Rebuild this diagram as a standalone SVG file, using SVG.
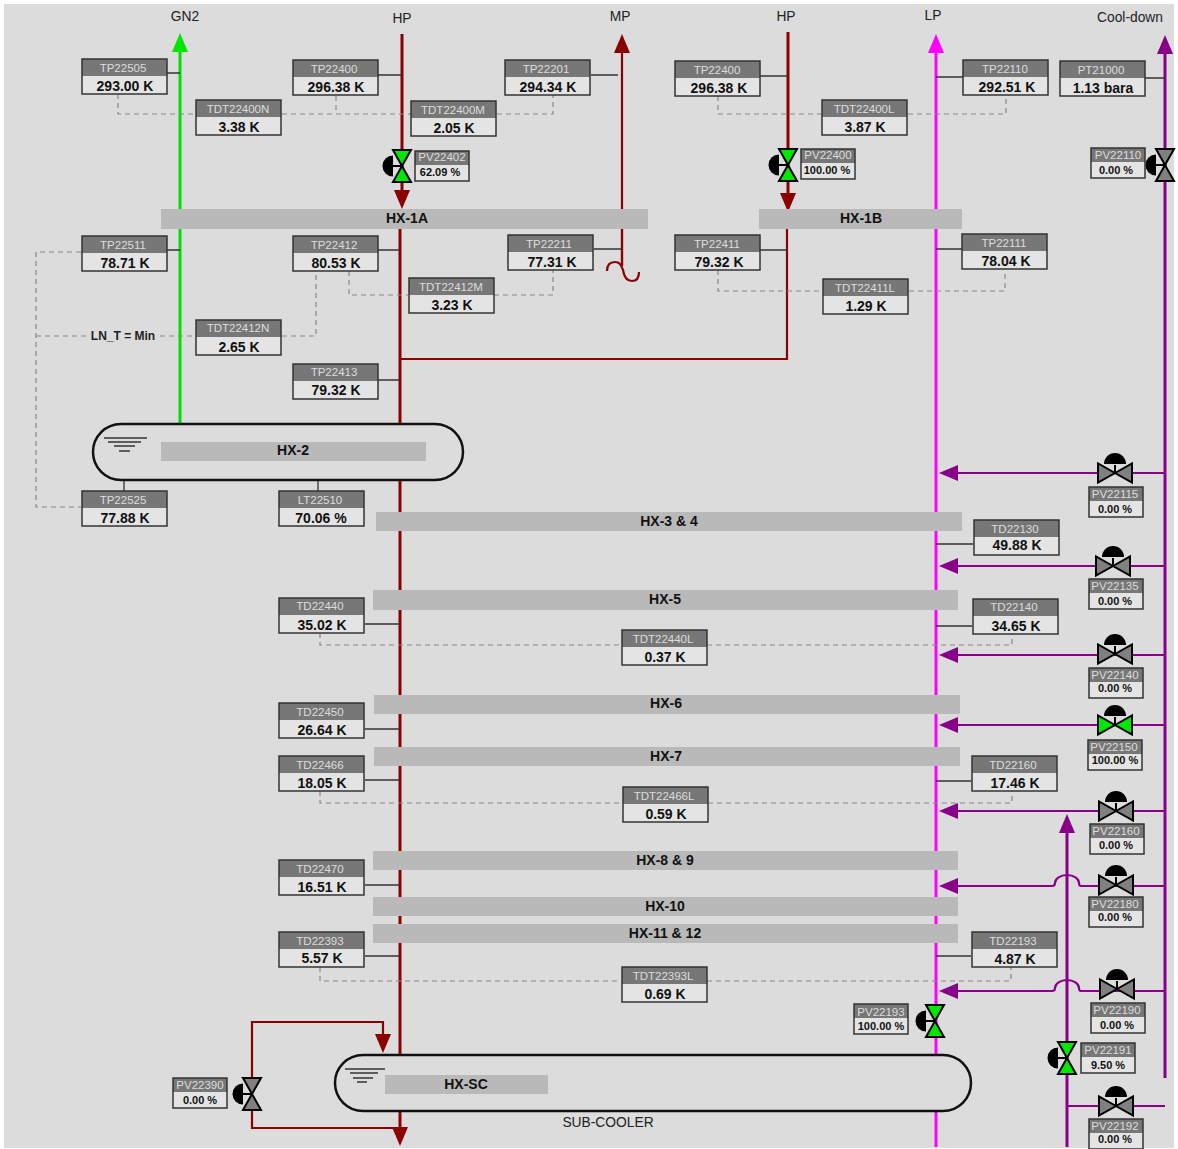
<svg xmlns="http://www.w3.org/2000/svg" width="1178" height="1149" viewBox="0 0 1178 1149">
<style>
text{font-family:"Liberation Sans",Arial,sans-serif;text-anchor:middle}
.lbl{font-size:13.8px;fill:#222}
.bar{fill:#b9b9b9}
.bt{font-size:14px;font-weight:bold;fill:#111}
.hd{fill:#777}
.body{fill:#e4e4e4}
.fr{fill:none;stroke:#333;stroke-width:1.5}
.nm{font-size:11.5px;fill:#ddd}
.val{font-size:14px;font-weight:bold;fill:#111}
.sval{font-size:11px;font-weight:bold;fill:#111}
.ves{fill:#dcdcdc;stroke:#111;stroke-width:2.5}
.lvl{stroke:#333;stroke-width:1.3;fill:none}
.stub{stroke:#333;stroke-width:1.3;fill:none}
.dash{stroke:#888;stroke-width:1.2;stroke-dasharray:5 4;fill:none}
.g{stroke:#00e000;stroke-width:3;fill:none}
.r{stroke:#8b0000;stroke-width:3;fill:none}
.r2{stroke:#8b0000;stroke-width:2.2;fill:none}
.m{stroke:#ff00ff;stroke-width:3;fill:none}
.p{stroke:#880088;stroke-width:3;fill:none}
.p2{stroke:#880088;stroke-width:2.2;fill:none}
.vo{fill:#808080;stroke:#000;stroke-width:2}
.vg{fill:#00e800;stroke:#000;stroke-width:2}
</style>
<defs>
<marker id="ag" markerUnits="userSpaceOnUse" markerWidth="20" markerHeight="16" viewBox="0 0 20 16" refX="1" refY="8" orient="auto"><path d="M0,0 L19,8 L0,16z" fill="#00e800"/></marker>
<marker id="ar" markerUnits="userSpaceOnUse" markerWidth="20" markerHeight="16" viewBox="0 0 20 16" refX="1" refY="8" orient="auto"><path d="M0,0 L19,8 L0,16z" fill="#8b0000"/></marker>
<marker id="am" markerUnits="userSpaceOnUse" markerWidth="20" markerHeight="16" viewBox="0 0 20 16" refX="1" refY="8" orient="auto"><path d="M0,0 L19,8 L0,16z" fill="#ff00ff"/></marker>
<marker id="ap" markerUnits="userSpaceOnUse" markerWidth="20" markerHeight="16" viewBox="0 0 20 16" refX="1" refY="8" orient="auto"><path d="M0,0 L19,8 L0,16z" fill="#880088"/></marker>
<g id="vh"><path d="M0,-8 V0" stroke="#000" stroke-width="2"/><path d="M-11,-9 A11,11 0 0 1 11,-9z" fill="#000"/><path class="vo" d="M0,0 L-17,-9.5 V9.5z"/><path class="vo" d="M0,0 L17,-9.5 V9.5z"/></g>
<g id="vhg"><path d="M0,-8 V0" stroke="#000" stroke-width="2"/><path d="M-11,-9 A11,11 0 0 1 11,-9z" fill="#000"/><path class="vg" d="M0,0 L-17,-9.5 V9.5z"/><path class="vg" d="M0,0 L17,-9.5 V9.5z"/></g>
<g id="vv"><path d="M-10,0 H0" stroke="#000" stroke-width="2"/><path d="M-9,-10.5 A10.5,10.5 0 0 0 -9,10.5z" fill="#000"/><path class="vo" d="M0,0 L-9,-16 H9z"/><path class="vo" d="M0,0 L-9,16 H9z"/></g>
<g id="vvg"><path d="M-10,0 H0" stroke="#000" stroke-width="2"/><path d="M-9,-10.5 A10.5,10.5 0 0 0 -9,10.5z" fill="#000"/><path class="vg" d="M0,0 L-9,-16 H9z"/><path class="vg" d="M0,0 L-9,16 H9z"/></g>
<g id="box"><rect class="body" width="85" height="35"/><rect class="hd" width="85" height="17"/><rect class="fr" width="85" height="35"/></g>
<g id="sbox"><rect class="body" width="54" height="30"/><rect class="hd" width="54" height="14"/><rect class="fr" width="54" height="30"/></g>
</defs>
<rect width="1178" height="1149" fill="#fff"/>
<rect x="4" y="4" width="1170" height="1144" fill="#dcdcdc"/>

<g id="connectors">
<path class="g" d="M180,425 V51" marker-end="url(#ag)"/>
<path class="r" d="M402,34 V191" marker-end="url(#ar)"/>
<path class="r" d="M400,229 V1055"/>
<path class="r2" d="M622,266 V52" marker-end="url(#ar)"/>
<path class="r2" d="M607,271 C607,264 611,262 615,262 C620,262 621,265 623,270 C624,277 627,281 632,281 C637,281 639,277 639,272"/>
<path class="r2" d="M622,229 V266"/>
<path class="r" d="M788,32 V194" marker-end="url(#ar)"/>
<path class="r2" d="M787,229 V359 H400"/>
<path class="m" d="M936,1147 V52" marker-end="url(#am)"/>
<path class="p" d="M1165,1078 V53" marker-end="url(#ap)"/>
<path class="p" d="M1067,1147 V832" marker-end="url(#ap)"/>
<path class="p2" d="M1165,473 H957" marker-end="url(#ap)"/>
<path class="p2" d="M1165,566 H957" marker-end="url(#ap)"/>
<path class="p2" d="M1165,655 H957" marker-end="url(#ap)"/>
<path class="p2" d="M1165,725 H957" marker-end="url(#ap)"/>
<path class="p2" d="M1165,811 H957" marker-end="url(#ap)"/>
<path class="p2" d="M1165,886 H1081 Q1079,886 1079,883 A12,8 0 0 0 1055,883 Q1055,886 1052,886 H957" marker-end="url(#ap)"/>
<path class="p2" d="M1165,991 H1081 Q1079,991 1079,988 A12,8 0 0 0 1055,988 Q1055,991 1052,991 H957" marker-end="url(#ap)"/>
<path class="p2" d="M1067,1106 H1165"/>
<path class="r2" d="M252,1078 V1022 H383 V1035" marker-end="url(#ar)"/>
<path class="r2" d="M252,1110 V1128 H400"/>
<path class="r" d="M400,1111 V1128" marker-end="url(#ar)"/>
<path class="stub" d="M167,73 H180 M378,75 H402 M591,75 H618 M760,76 H788 M936,77 H963 M1145,78 H1165 M167,250 H180 M378,250 H400 M594,249 H622 M760,250 H787 M936,249 H962 M378,380 H400 M124,480 V491 M318,480 V491 M936,544 H973 M365,624 H400 M936,626 H972 M365,729 H400 M365,780 H400 M936,781 H971 M365,885 H400 M365,956 H400 M936,956 H971"/>
<path class="dash" d="M118,94 V114 H196 M282,114 H411 M336,96 V114 M497,114 H553 V95"/>
<path class="dash" d="M718,96 V114 H822 M908,114 H1006 V96"/>
<path class="dash" d="M81,252 H36 V507 H81 M36,336 H88 M160,336 H196 M282,336 H316 V271"/>
<path class="dash" d="M349,271 V295 H408 M494,295 H553 V270"/>
<path class="dash" d="M718,270 V291 H823 M909,291 H1005 V269"/>
<path class="dash" d="M320,633 V645 H621 M707,645 H1012 V634"/>
<path class="dash" d="M320,791 V803 H622 M708,803 H1012 V791"/>
<path class="dash" d="M320,967 V981 H621 M707,981 H1011 V967"/>
</g>

<g id="labels">
<text class="lbl" x="185" y="21">GN2</text>
<text class="lbl" x="402" y="23">HP</text>
<text class="lbl" x="620" y="21">MP</text>
<text class="lbl" x="786" y="21">HP</text>
<text class="lbl" x="933" y="20">LP</text>
<text class="lbl" x="1130" y="22">Cool-down</text>
<text class="lbl" x="608" y="1127">SUB-COOLER</text>
<text x="123" y="340" style="font-size:12px;font-weight:bold;fill:#222">LN_T = Min</text>
</g>

<g id="HX-1A"><rect class="bar" x="161" y="209" width="487" height="20"/><text class="bt" x="407" y="223">HX-1A</text></g>
<g id="HX-1B"><rect class="bar" x="759" y="209" width="203" height="20"/><text class="bt" x="861" y="223">HX-1B</text></g>
<g id="HX-2"><rect class="ves" x="93" y="424" width="370" height="56" rx="28" ry="28"/><path class="lvl" d="M104,438 H147 M108,442 H141 M114,446 H135 M119,451 H130"/><rect class="bar" x="161" y="442" width="265" height="19"/><text class="bt" x="293" y="455">HX-2</text></g>
<g id="HX-3-4"><rect class="bar" x="376" y="512" width="586" height="19"/><text class="bt" x="669" y="526">HX-3 &amp; 4</text></g>
<g id="HX-5"><rect class="bar" x="373" y="590" width="585" height="20"/><text class="bt" x="665" y="604">HX-5</text></g>
<g id="HX-6"><rect class="bar" x="374" y="695" width="586" height="19"/><text class="bt" x="666" y="708">HX-6</text></g>
<g id="HX-7"><rect class="bar" x="374" y="747" width="586" height="19"/><text class="bt" x="666" y="761">HX-7</text></g>
<g id="HX-8-9"><rect class="bar" x="373" y="851" width="585" height="19"/><text class="bt" x="665" y="865">HX-8 &amp; 9</text></g>
<g id="HX-10"><rect class="bar" x="373" y="897" width="585" height="19"/><text class="bt" x="665" y="911">HX-10</text></g>
<g id="HX-11-12"><rect class="bar" x="373" y="924" width="585" height="19"/><text class="bt" x="665" y="938">HX-11 &amp; 12</text></g>
<g id="HX-SC"><rect class="ves" x="335" y="1055" width="636" height="56" rx="28" ry="28"/><path class="lvl" d="M345,1069 H385 M350,1073 H378 M353,1078 H373 M357,1082 H367"/><rect class="bar" x="385" y="1075" width="163" height="19"/><text class="bt" x="466" y="1089">HX-SC</text></g>

<g id="TP22505"><use href="#box" x="82" y="59"/><text class="nm" x="123" y="72">TP22505</text><text class="val" x="125" y="91">293.00 K</text></g>
<g id="TP22400a"><use href="#box" x="293" y="60"/><text class="nm" x="334" y="73">TP22400</text><text class="val" x="336" y="92">296.38 K</text></g>
<g id="TDT22400N"><use href="#box" x="196" y="100"/><text class="nm" x="238" y="113">TDT22400N</text><text class="val" x="239" y="132">3.38 K</text></g>
<g id="TDT22400M"><use href="#box" x="411" y="101"/><text class="nm" x="453" y="114">TDT22400M</text><text class="val" x="454" y="133">2.05 K</text></g>
<g id="TP22201"><use href="#box" x="505" y="60"/><text class="nm" x="546" y="73">TP22201</text><text class="val" x="548" y="92">294.34 K</text></g>
<g id="TP22400b"><use href="#box" x="675" y="61"/><text class="nm" x="717" y="74">TP22400</text><text class="val" x="719" y="93">296.38 K</text></g>
<g id="TDT22400L"><use href="#box" x="822" y="100"/><text class="nm" x="864" y="113">TDT22400L</text><text class="val" x="865" y="132">3.87 K</text></g>
<g id="TP22110"><use href="#box" x="963" y="60"/><text class="nm" x="1005" y="73">TP22110</text><text class="val" x="1007" y="92">292.51 K</text></g>
<g id="PT21000"><use href="#box" x="1060" y="61"/><text class="nm" x="1101" y="74">PT21000</text><text class="val" x="1103" y="93">1.13 bara</text></g>
<g id="TP22511"><use href="#box" x="82" y="236"/><text class="nm" x="123" y="249">TP22511</text><text class="val" x="125" y="268">78.71 K</text></g>
<g id="TP22412"><use href="#box" x="293" y="236"/><text class="nm" x="334" y="249">TP22412</text><text class="val" x="336" y="268">80.53 K</text></g>
<g id="TP22211"><use href="#box" x="508" y="235"/><text class="nm" x="549" y="248">TP22211</text><text class="val" x="552" y="267">77.31 K</text></g>
<g id="TP22411"><use href="#box" x="675" y="235"/><text class="nm" x="717" y="248">TP22411</text><text class="val" x="719" y="267">79.32 K</text></g>
<g id="TP22111"><use href="#box" x="962" y="234"/><text class="nm" x="1004" y="247">TP22111</text><text class="val" x="1006" y="266">78.04 K</text></g>
<g id="TDT22412M"><use href="#box" x="409" y="278"/><text class="nm" x="451" y="291">TDT22412M</text><text class="val" x="452" y="310">3.23 K</text></g>
<g id="TDT22411L"><use href="#box" x="823" y="279"/><text class="nm" x="865" y="292">TDT22411L</text><text class="val" x="866" y="311">1.29 K</text></g>
<g id="TDT22412N"><use href="#box" x="196" y="320"/><text class="nm" x="238" y="332">TDT22412N</text><text class="val" x="239" y="352">2.65 K</text></g>
<g id="TP22413"><use href="#box" x="293" y="364"/><text class="nm" x="334" y="376">TP22413</text><text class="val" x="336" y="395">79.32 K</text></g>
<g id="TP22525"><use href="#box" x="82" y="491"/><text class="nm" x="123" y="504">TP22525</text><text class="val" x="125" y="523">77.88 K</text></g>
<g id="LT22510"><use href="#box" x="279" y="491"/><text class="nm" x="320" y="504">LT22510</text><text class="val" x="321" y="523">70.06 %</text></g>
<g id="TD22130"><use href="#box" x="974" y="520"/><text class="nm" x="1015" y="533">TD22130</text><text class="val" x="1017" y="550">49.88 K</text></g>
<g id="TD22440"><use href="#box" x="279" y="598"/><text class="nm" x="320" y="610">TD22440</text><text class="val" x="322" y="630">35.02 K</text></g>
<g id="TD22140"><use href="#box" x="973" y="599"/><text class="nm" x="1014" y="611">TD22140</text><text class="val" x="1016" y="631">34.65 K</text></g>
<g id="TDT22440L"><use href="#box" x="622" y="630"/><text class="nm" x="663" y="643">TDT22440L</text><text class="val" x="665" y="662">0.37 K</text></g>
<g id="TD22450"><use href="#box" x="279" y="703"/><text class="nm" x="320" y="716">TD22450</text><text class="val" x="322" y="735">26.64 K</text></g>
<g id="TD22466"><use href="#box" x="279" y="756"/><text class="nm" x="320" y="769">TD22466</text><text class="val" x="322" y="788">18.05 K</text></g>
<g id="TD22160"><use href="#box" x="972" y="756"/><text class="nm" x="1013" y="769">TD22160</text><text class="val" x="1015" y="788">17.46 K</text></g>
<g id="TDT22466L"><use href="#box" x="623" y="787"/><text class="nm" x="664" y="800">TDT22466L</text><text class="val" x="666" y="819">0.59 K</text></g>
<g id="TD22470"><use href="#box" x="279" y="860"/><text class="nm" x="320" y="873">TD22470</text><text class="val" x="322" y="892">16.51 K</text></g>
<g id="TD22393"><use href="#box" x="279" y="932"/><text class="nm" x="320" y="945">TD22393</text><text class="val" x="322" y="963">5.57 K</text></g>
<g id="TD22193"><use href="#box" x="972" y="932"/><text class="nm" x="1013" y="945">TD22193</text><text class="val" x="1015" y="964">4.87 K</text></g>
<g id="TDT22393L"><use href="#box" x="622" y="967"/><text class="nm" x="663" y="980">TDT22393L</text><text class="val" x="665" y="999">0.69 K</text></g>

<g id="PV22402"><use href="#vvg" x="402" y="166"/><use href="#sbox" x="415" y="151"/><text class="nm" x="442" y="161">PV22402</text><text class="sval" x="440" y="176">62.09 %</text></g>
<g id="PV22400"><use href="#vvg" x="788" y="165"/><use href="#sbox" x="801" y="149"/><text class="nm" x="828" y="159">PV22400</text><text class="sval" x="827" y="174">100.00 %</text></g>
<g id="PV22110"><use href="#vv" x="1165" y="165"/><use href="#sbox" x="1091" y="148"/><text class="nm" x="1118" y="159">PV22110</text><text class="sval" x="1116" y="174">0.00 %</text></g>
<g id="PV22115"><use href="#vh" x="1115" y="473"/><use href="#sbox" x="1089" y="487"/><text class="nm" x="1115" y="498">PV22115</text><text class="sval" x="1115" y="513">0.00 %</text></g>
<g id="PV22135"><use href="#vh" x="1113" y="566"/><use href="#sbox" x="1089" y="579"/><text class="nm" x="1115" y="590">PV22135</text><text class="sval" x="1115" y="605">0.00 %</text></g>
<g id="PV22140"><use href="#vh" x="1115" y="654"/><use href="#sbox" x="1089" y="668"/><text class="nm" x="1115" y="679">PV22140</text><text class="sval" x="1115" y="692">0.00 %</text></g>
<g id="PV22150"><use href="#vhg" x="1115" y="725"/><use href="#sbox" x="1088" y="740"/><text class="nm" x="1114" y="751">PV22150</text><text class="sval" x="1115" y="764">100.00 %</text></g>
<g id="PV22160"><use href="#vh" x="1116" y="811"/><use href="#sbox" x="1090" y="824"/><text class="nm" x="1116" y="835">PV22160</text><text class="sval" x="1116" y="849">0.00 %</text></g>
<g id="PV22180"><use href="#vh" x="1116" y="885"/><use href="#sbox" x="1089" y="897"/><text class="nm" x="1115" y="908">PV22180</text><text class="sval" x="1115" y="921">0.00 %</text></g>
<g id="PV22190"><use href="#vh" x="1117" y="989"/><use href="#sbox" x="1091" y="1003"/><text class="nm" x="1117" y="1014">PV22190</text><text class="sval" x="1117" y="1029">0.00 %</text></g>
<g id="PV22191"><use href="#vvg" x="1067" y="1058"/><use href="#sbox" x="1081" y="1043"/><text class="nm" x="1108" y="1054">PV22191</text><text class="sval" x="1108" y="1069">9.50 %</text></g>
<g id="PV22192"><use href="#vh" x="1116" y="1106"/><use href="#sbox" x="1089" y="1119"/><text class="nm" x="1115" y="1130">PV22192</text><text class="sval" x="1115" y="1143">0.00 %</text></g>
<g id="PV22193"><use href="#vvg" x="935" y="1021"/><use href="#sbox" x="854" y="1004"/><text class="nm" x="881" y="1016">PV22193</text><text class="sval" x="881" y="1030">100.00 %</text></g>
<g id="PV22390"><use href="#vv" x="252" y="1094"/><use href="#sbox" x="173" y="1078"/><text class="nm" x="200" y="1089">PV22390</text><text class="sval" x="200" y="1104">0.00 %</text></g>
</svg>
